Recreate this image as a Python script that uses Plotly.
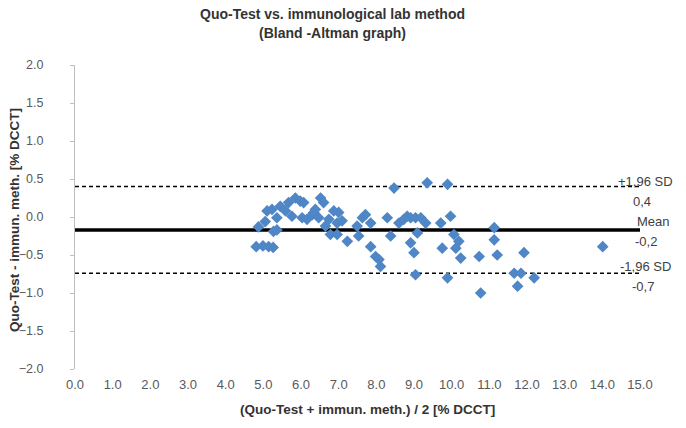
import plotly.graph_objects as go

# Bland-Altman data: mean of both methods (x) and difference (y), % DCCT
avg_values = [
    4.81, 4.99, 5.14, 5.26,
    4.87, 5.05, 5.27, 5.36,
    5.10, 5.23, 5.36, 5.45, 5.59, 5.67, 5.76, 5.85, 5.98, 6.07, 6.03, 6.16, 6.30, 6.38,
    6.34, 6.52, 6.60, 6.47, 6.65, 6.74, 6.87, 7.00, 6.96, 7.09, 6.78, 6.96,
    7.23, 7.53, 7.49, 7.63, 7.71, 7.85, 7.85, 7.98, 8.07, 8.11,
    8.29, 8.38, 8.47, 8.60, 8.73, 8.82,
    9.35, 9.89, 8.91, 9.04, 9.18, 9.31, 9.09, 8.91, 9.00, 9.04,
    9.71, 9.97, 10.06, 10.19, 10.11, 9.75, 10.24, 9.89, 10.73, 10.77,
    11.13, 11.13, 11.21, 11.92, 11.66, 11.84, 11.75, 12.19, 14.01,
]
diff_values = [
    -0.39, -0.38, -0.39, -0.40,
    -0.13, -0.06, -0.19, -0.17,
    0.08, 0.10, -0.01, 0.14, 0.08, 0.19, 0.01, 0.25, 0.21, 0.19, -0.01, -0.03, 0.03, 0.10,
    0.06, 0.25, 0.19, -0.01, -0.12, -0.03, 0.08, 0.06, -0.08, -0.05, -0.23, -0.23,
    -0.32, -0.25, -0.12, -0.01, 0.03, -0.08, -0.39, -0.52, -0.56, -0.65,
    -0.01, -0.25, 0.38, -0.08, -0.03, 0.01,
    0.45, 0.43, -0.01, -0.01, -0.01, -0.08, -0.21, -0.34, -0.47, -0.76,
    -0.08, 0.01, -0.23, -0.32, -0.41, -0.41, -0.54, -0.80, -0.52, -1.00,
    -0.14, -0.30, -0.50, -0.47, -0.74, -0.74, -0.91, -0.80, -0.39,
]

mean_diff = -0.17
upper_loa = 0.40
lower_loa = -0.74
line_x = [0, 15]

x_ticks = [i for i in range(0, 16)]
y_ticks = [-2.0, -1.5, -1.0, -0.5, 0.0, 0.5, 1.0, 1.5, 2.0]

fig = go.Figure()

fig.add_trace(go.Scatter(x=line_x, y=[upper_loa, upper_loa], mode="lines",
                         line=dict(color="black", width=1.5, dash="4px,3px"),
                         hoverinfo="skip", showlegend=False))
fig.add_trace(go.Scatter(x=line_x, y=[lower_loa, lower_loa], mode="lines",
                         line=dict(color="black", width=1.5, dash="4px,3px"),
                         hoverinfo="skip", showlegend=False))
fig.add_trace(go.Scatter(x=line_x, y=[mean_diff, mean_diff], mode="lines",
                         line=dict(color="black", width=3.5),
                         hoverinfo="skip", showlegend=False))

fig.add_trace(go.Scatter(x=avg_values, y=diff_values, mode="markers",
                         marker=dict(symbol="diamond", size=9, color="#4F86C6",
                                     line=dict(width=0)),
                         showlegend=False))

font_family = "Liberation Sans, Arial, sans-serif"

L, R, T, B = 75, 46, 65, 59
W, H = 686, 428
PW, PH = W - L - R, H - T - B


def px_to_paper(px, py):
    return (px - L) / PW, 1 - (py - T) / PH


fig.update_layout(
    width=W, height=H,
    margin=dict(l=L, r=R, t=T, b=B),
    paper_bgcolor="white", plot_bgcolor="white",
    font=dict(family=font_family, size=13, color="#595959"),
    xaxis=dict(range=[0, 15], tickvals=x_ticks, tickformat=".1f",
               showgrid=False, zeroline=False, showline=False, ticks="",
               ticklabelstandoff=6,
               tickfont=dict(size=13, color="#595959")),
    yaxis=dict(range=[-2, 2], tickvals=y_ticks, tickformat=".1f",
               showgrid=False, zeroline=False, showline=True, linecolor="#BFBFBF",
               linewidth=1, ticks="outside", ticklen=4, tickcolor="#BFBFBF",
               ticklabelstandoff=24,
               tickfont=dict(size=12.5, color="#595959")),
)

title_lines = [("<b>Quo-Test vs. immunological lab method</b>", 332, 14),
               ("<b>(Bland -Altman graph)</b>", 332, 33)]
for txt, px, py in title_lines:
    ax, ay = px_to_paper(px, py)
    fig.add_annotation(text=txt, xref="paper", yref="paper", x=ax, y=ay,
                       xanchor="center", yanchor="middle", showarrow=False,
                       font=dict(size=14, color="#333333"))

ax, ay = px_to_paper(367, 409)
fig.add_annotation(text="<b>(Quo-Test + immun. meth.) / 2 [% DCCT]</b>",
                   xref="paper", yref="paper", x=ax, y=ay,
                   xanchor="center", yanchor="middle", showarrow=False,
                   font=dict(size=13.5, color="#333333"))
ax, ay = px_to_paper(15, 220)
fig.add_annotation(text="<b>Quo-Test - immun. meth. [% DCCT]</b>",
                   xref="paper", yref="paper", x=ax, y=ay, textangle=-90,
                   xanchor="center", yanchor="middle", showarrow=False,
                   font=dict(size=13.5, color="#333333"))

labels = [("+1,96 SD", 645, 181), ("0,4", 642, 201), ("Mean", 653, 221),
          ("-0,2", 646, 241), ("-1,96 SD", 645, 266), ("-0,7", 643, 286)]
for txt, px, py in labels:
    ax, ay = px_to_paper(px, py)
    fig.add_annotation(text=txt, xref="paper", yref="paper", x=ax, y=ay,
                       xanchor="center", yanchor="middle", showarrow=False,
                       font=dict(size=13, color="#404040"))

fig.write_html("out.html", config={"displayModeBar": False},
               post_script="document.body.style.margin='0px';")
